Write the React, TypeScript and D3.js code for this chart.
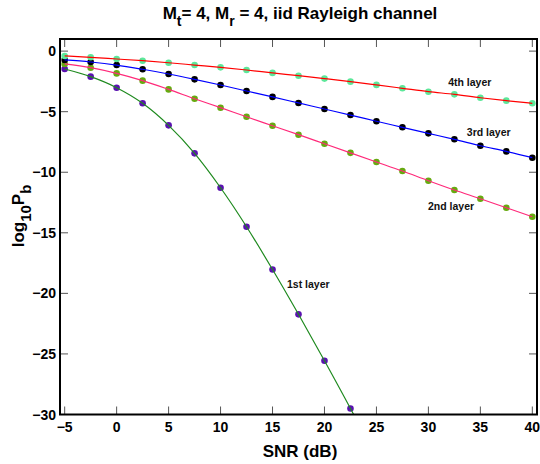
import React from "react";
import * as d3 from "d3";

const snr = [-5, -2.5, 0, 2.5, 5, 7.5, 10, 12.5, 15, 17.5, 20, 22.5, 25, 27.5, 30, 32.5, 35, 37.5, 40];
const layer4 = [-0.4, -0.51, -0.65, -0.79, -0.96, -1.15, -1.34, -1.56, -1.8, -2.03, -2.27, -2.52, -2.79, -3.07, -3.35, -3.57, -3.85, -4.09, -4.31];
const layer3 = [-0.73, -0.9, -1.15, -1.5, -1.89, -2.33, -2.8, -3.29, -3.78, -4.28, -4.78, -5.28, -5.79, -6.29, -6.79, -7.28, -7.81, -8.28, -8.8];
const layer2 = [-1.06, -1.37, -1.84, -2.44, -3.16, -3.93, -4.67, -5.42, -6.16, -6.9, -7.65, -8.4, -9.15, -9.9, -10.7, -11.47, -12.19, -12.93, -13.67];
const layer1 = [-1.48, -2.11, -3.02, -4.31, -6.13, -8.44, -11.28, -14.5, -18.03, -21.73, -25.56, -29.5];
const layer1CurveTail = [{ x: 25, y: -33.6 }];

const xTicks = [-5, 0, 5, 10, 15, 20, 25, 30, 35, 40];
const yTicks = [0, -5, -10, -15, -20, -25, -30];

const seriesNames = ["1st layer", "2nd layer", "3rd layer", "4th layer"];
const lineColors = ["#1f8a1f", "#ff2a7a", "#0000ff", "#ff0000"];
const markerColors = ["#5a12b0", "#66aa10", "#000000", "#5ce89a"];
// annotation anchors in data coordinates (SNR, log10 Pb)
const labelX = [16.39, 29.96, 33.7, 31.9];
const labelY = [-19.56, -13.12, -7.01, -2.88];

const W = 540;
const H = 464;
const FONT = "'Liberation Sans', Arial, Helvetica, sans-serif";

export default function App() {
  const x = d3.scaleLinear().domain([-5.45, 40.45]).range([60, 537]);
  const y = d3.scaleLinear().domain([-30, 1]).range([414.5, 39]);

  const allSeries = [layer1, layer2, layer3, layer4];
  const line = d3
    .line<{ x: number; y: number }>()
    .x((d) => x(d.x))
    .y((d) => y(d.y))
    .curve(d3.curveMonotoneX);

  const pts = allSeries.map((vals) => vals.map((v, i) => ({ x: snr[i], y: v })));
  const curves = pts.map((p, i) => (i === 0 ? p.concat(layer1CurveTail) : p));

  const [x0, x1] = x.range();
  const [y0, y1] = y.range();
  const tickLen = 8;

  return (
    <svg
      width={W}
      height={H}
      style={{ position: "absolute", left: 0, top: 0, background: "#fff" }}
      fontFamily={FONT}
    >
      <defs>
        <clipPath id="plotClip">
          <rect x={x0} y={y1} width={x1 - x0} height={y0 - y1} />
        </clipPath>
      </defs>

      <g clipPath="url(#plotClip)">
        {pts.map((p, si) =>
          p.map((d, i) => (
            <circle key={`m${si}-${i}`} cx={x(d.x)} cy={y(d.y)} r={3.3} fill={markerColors[si]} />
          ))
        )}
        {curves.map((c, si) => (
          <path key={`l${si}`} d={line(c) || ""} fill="none" stroke={lineColors[si]} strokeWidth={1.2} />
        ))}
      </g>

      <g stroke="#555" strokeWidth={1}>
        {xTicks.map((t) => (
          <g key={`xt${t}`}>
            <line x1={x(t)} x2={x(t)} y1={y0} y2={y0 - tickLen} />
            <line x1={x(t)} x2={x(t)} y1={y1} y2={y1 + tickLen} />
          </g>
        ))}
        {yTicks.map((t) => (
          <g key={`yt${t}`}>
            <line x1={x0} x2={x0 + tickLen} y1={y(t)} y2={y(t)} />
            <line x1={x1} x2={x1 - tickLen} y1={y(t)} y2={y(t)} />
          </g>
        ))}
      </g>

      <rect x={x0} y={y1} width={x1 - x0} height={y0 - y1} fill="none" stroke="#000" strokeWidth={2} />

      <g fontSize={14} fontWeight="bold" fill="#000">
        {xTicks.map((t) => (
          <text key={`xl${t}`} x={x(t)} y={432} textAnchor="middle">
            {t < 0 ? `\u2212${Math.abs(t)}` : `${t}`}
          </text>
        ))}
        {yTicks.map((t) => (
          <text key={`yl${t}`} x={56} y={y(t) + 5} textAnchor="end">
            {t < 0 ? `\u2212${Math.abs(t)}` : `${t}`}
          </text>
        ))}
      </g>

      <g fontSize={10.5} fontWeight="bold" fill="#111">
        {seriesNames.map((n, i) => (
          <text key={n} x={x(labelX[i])} y={y(labelY[i])}>
            {n}
          </text>
        ))}
      </g>

      <text x={300} y={19} textAnchor="middle" fontSize={17} fontWeight="bold">
        M
        <tspan fontSize={14} dy={7}>t</tspan>
        <tspan dy={-7}>= 4, M</tspan>
        <tspan fontSize={14} dy={7}>r</tspan>
        <tspan dy={-7}> = 4, iid Rayleigh channel</tspan>
      </text>

      <text x={300} y={457} textAnchor="middle" fontSize={17} fontWeight="bold">
        SNR (dB)
      </text>

      <text
        transform={`translate(24, 216) rotate(-90)`}
        textAnchor="middle"
        fontSize={17}
        fontWeight="bold"
      >
        log
        <tspan fontSize={15} dy={7}>10</tspan>
        <tspan dy={-7}>P</tspan>
        <tspan fontSize={15} dy={7}>b</tspan>
      </text>
    </svg>
  );
}
